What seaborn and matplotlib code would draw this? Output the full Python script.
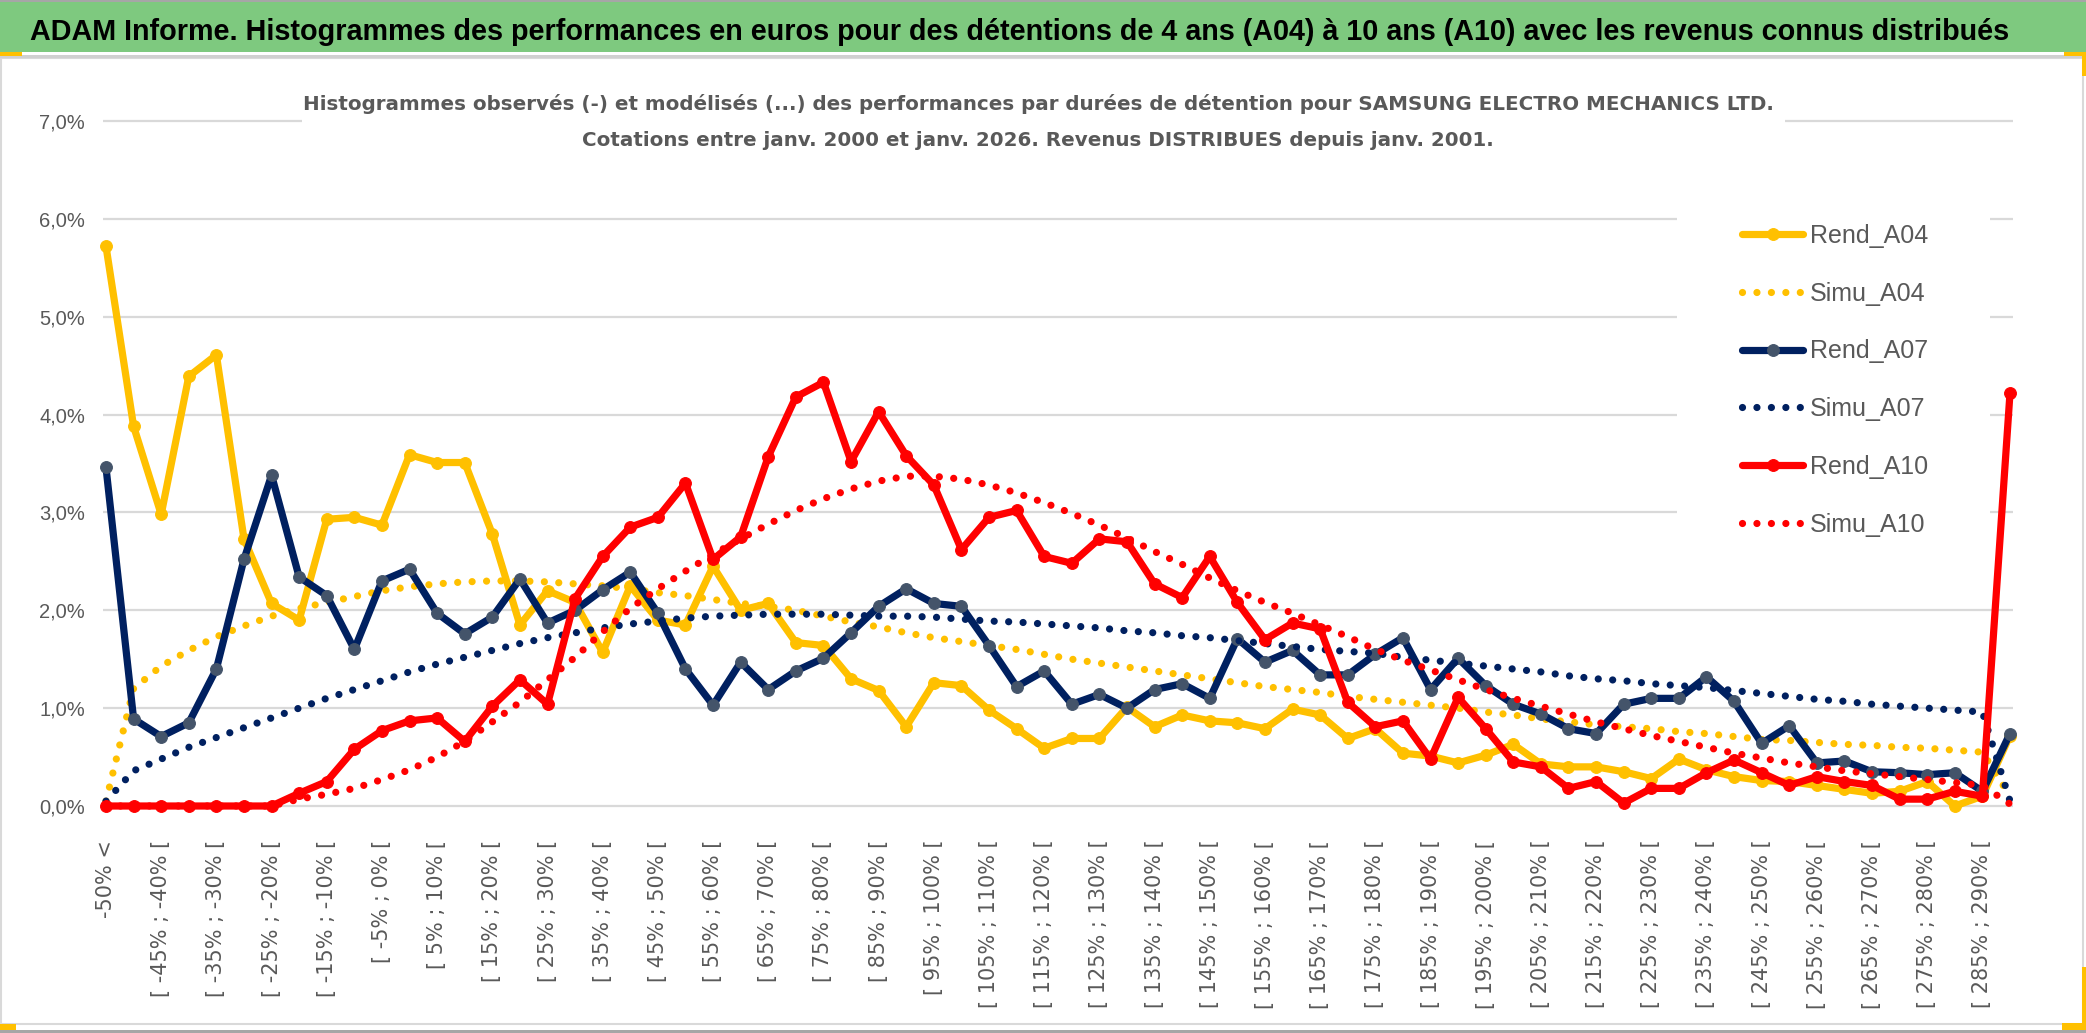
''' Histogrammes ADAM - SAMSUNG ELECTRO MECHANICS '''

''' Imports '''
import seaborn as sns
import matplotlib
matplotlib.use("Agg")
from matplotlib import pyplot as plt
from matplotlib.patches import Rectangle
from matplotlib.transforms import IdentityTransform
from matplotlib.ticker import FuncFormatter

''' Données (en %) '''
bornes = list(range(-50, 295, 5))
categories = ["-50% <"] + [f"[ {b}% ; {b + 5}% [" for b in bornes]

rend_a04 = [5.72, 3.88, 2.98, 4.39, 4.61, 2.73, 2.07, 1.9, 2.93, 2.95,
            2.87, 3.59, 3.51, 3.51, 2.78, 1.85, 2.2, 2.08, 1.57, 2.25,
            1.9, 1.85, 2.45, 2.0, 2.07, 1.67, 1.64, 1.3, 1.18, 0.81,
            1.26, 1.23, 0.98, 0.79, 0.59, 0.69, 0.69, 1.01, 0.81, 0.93,
            0.87, 0.85, 0.79, 0.99, 0.93, 0.69, 0.79, 0.54, 0.51, 0.44,
            0.52, 0.63, 0.43, 0.4, 0.4, 0.35, 0.28, 0.48, 0.37, 0.3,
            0.26, 0.25, 0.21, 0.17, 0.13, 0.15, 0.25, 0.0, 0.1, 0.72]
simu_a04 = [0.05, 1.2, 1.43, 1.59, 1.73, 1.84, 1.94, 2.02, 2.08, 2.14,
            2.2, 2.24, 2.27, 2.29, 2.3, 2.3, 2.29, 2.27, 2.25, 2.22,
            2.18, 2.15, 2.11, 2.07, 2.04, 2.0, 1.94, 1.88, 1.83, 1.77,
            1.72, 1.68, 1.64, 1.6, 1.55, 1.5, 1.46, 1.42, 1.38, 1.34,
            1.3, 1.26, 1.22, 1.19, 1.16, 1.12, 1.09, 1.06, 1.03, 1.0,
            0.96, 0.93, 0.89, 0.86, 0.83, 0.81, 0.79, 0.76, 0.74, 0.71,
            0.68, 0.67, 0.65, 0.63, 0.62, 0.6, 0.59, 0.57, 0.55, 0.1]
rend_a07 = [3.46, 0.89, 0.71, 0.85, 1.4, 2.52, 3.38, 2.34, 2.15, 1.6,
            2.3, 2.42, 1.97, 1.76, 1.93, 2.32, 1.87, 2.0, 2.21, 2.39,
            1.97, 1.4, 1.03, 1.47, 1.19, 1.38, 1.51, 1.77, 2.04, 2.22,
            2.07, 2.04, 1.64, 1.22, 1.38, 1.04, 1.14, 1.0, 1.19, 1.25,
            1.1, 1.71, 1.47, 1.59, 1.34, 1.34, 1.55, 1.72, 1.19, 1.51,
            1.23, 1.04, 0.94, 0.79, 0.74, 1.04, 1.1, 1.1, 1.32, 1.07,
            0.64, 0.82, 0.44, 0.46, 0.35, 0.34, 0.32, 0.34, 0.15, 0.74]
simu_a07 = [0.05, 0.36, 0.48, 0.6, 0.7, 0.8, 0.9, 1.0, 1.1, 1.19,
            1.28, 1.37, 1.45, 1.52, 1.59, 1.66, 1.72, 1.77, 1.82, 1.86,
            1.89, 1.92, 1.94, 1.95, 1.96, 1.96, 1.96, 1.95, 1.94, 1.94,
            1.93, 1.91, 1.89, 1.88, 1.86, 1.84, 1.82, 1.79, 1.77, 1.74,
            1.72, 1.69, 1.66, 1.63, 1.6, 1.58, 1.56, 1.52, 1.49, 1.46,
            1.43, 1.4, 1.37, 1.33, 1.3, 1.28, 1.25, 1.23, 1.21, 1.18,
            1.15, 1.12, 1.09, 1.07, 1.04, 1.02, 1.0, 0.98, 0.96, 0.05]
rend_a10 = [0.0, 0.0, 0.0, 0.0, 0.0, 0.0, 0.0, 0.13, 0.25, 0.58,
            0.77, 0.87, 0.9, 0.66, 1.02, 1.29, 1.04, 2.12, 2.55, 2.85,
            2.95, 3.3, 2.52, 2.75, 3.57, 4.18, 4.33, 3.52, 4.03, 3.58,
            3.28, 2.62, 2.95, 3.02, 2.55, 2.48, 2.73, 2.7, 2.27, 2.13,
            2.55, 2.08, 1.7, 1.87, 1.81, 1.06, 0.81, 0.87, 0.48, 1.11,
            0.79, 0.45, 0.4, 0.18, 0.25, 0.03, 0.18, 0.18, 0.34, 0.47,
            0.34, 0.21, 0.3, 0.25, 0.21, 0.07, 0.07, 0.15, 0.1, 4.22]
simu_a10 = [0.0, 0.0, 0.0, 0.0, 0.0, 0.0, 0.0, 0.07, 0.12, 0.18,
            0.27, 0.37, 0.5, 0.66, 0.86, 1.06, 1.29, 1.52, 1.78, 2.02,
            2.22, 2.4, 2.57, 2.73, 2.88, 3.02, 3.14, 3.24, 3.32, 3.37,
            3.37, 3.34, 3.28, 3.2, 3.1, 2.99, 2.87, 2.74, 2.6, 2.47,
            2.33, 2.2, 2.08, 1.97, 1.85, 1.73, 1.6, 1.49, 1.39, 1.29,
            1.19, 1.1, 1.02, 0.94, 0.86, 0.79, 0.72, 0.66, 0.6, 0.54,
            0.49, 0.44, 0.4, 0.36, 0.33, 0.3, 0.27, 0.24, 0.21, 0.02]

titre = ("ADAM Informe. Histogrammes des performances en euros pour des détentions "
         "de 4 ans (A04) à 10 ans (A10) avec les revenus connus distribués")
sous_titre = ["Histogrammes observés (-) et modélisés (...) des performances par durées "
              "de détention pour SAMSUNG ELECTRO MECHANICS LTD.",
              "Cotations entre janv. 2000 et janv. 2026. Revenus DISTRIBUES depuis janv. 2001."]

''' Style '''
sns.set_theme(style="white")
LIB = ["Liberation Sans", "DejaVu Sans"]
plt.rcParams["font.family"] = ["DejaVu Sans"]
GRIS = "#595959"
GRILLE = "#d9d9d9"
W, H = 2086, 1033


def boite(x0, y0, x1, y1, **kw):
    # rectangle en pixels (origine en haut a gauche)
    return Rectangle((x0, H - y1), x1 - x0, y1 - y0, transform=IdentityTransform(), **kw)


fig = plt.figure(figsize=(W / 100, H / 100), dpi=100)

''' Axes : 0% -> y=806 px, 7% -> y=121 px ; cat 0 -> x=106 px, cat 69 -> x=2010 px '''
px_pct = (806 - 121) / 7.0
px_cat = (2010 - 106) / 69.0
y_lo, y_hi = -0.06, 7.06
x_lo, x_hi = -0.1, 69.1
left = 106 + x_lo * px_cat
right = 106 + x_hi * px_cat
bottom = 806 - y_lo * px_pct
top = 806 - y_hi * px_pct
ax = fig.add_axes([left / W, 1 - bottom / H, (right - left) / W, (bottom - top) / H])

positions = list(range(len(categories)))
series = [
    ("Rend_A04", rend_a04, "#FFC000", "#FFC000", "-"),
    ("Simu_A04", simu_a04, "#FFC000", None, ":"),
    ("Rend_A07", rend_a07, "#002060", "#44546A", "-"),
    ("Simu_A07", simu_a07, "#002060", None, ":"),
    ("Rend_A10", rend_a10, "#FF0000", "#FF0000", "-"),
    ("Simu_A10", simu_a10, "#FF0000", None, ":"),
]

for i, (nom, valeurs, couleur, marq, style) in enumerate(series):
    if style == "-":
        sns.lineplot(x=positions, y=valeurs, ax=ax, color=couleur, lw=5.2, marker="o",
                     ms=8.5, mfc=marq, mec=marq, label=nom, clip_on=False,
                     errorbar=None, zorder=3 + i)
    else:
        sns.lineplot(x=positions, y=valeurs, ax=ax, color=couleur, lw=5.2,
                     linestyle=(0, (0.001, 2.0)), dash_capstyle="round", label=nom,
                     clip_on=False, errorbar=None, zorder=3 + i)

ax.set_xlim(x_lo, x_hi)
ax.set_ylim(y_lo, y_hi)
ax.set_axisbelow(True)
for s in ax.spines.values():
    s.set_visible(False)

ax.set_yticks(range(0, 8))
ax.yaxis.set_major_formatter(FuncFormatter(lambda v, p: f"{v:.1f}%".replace(".", ",")))
ax.grid(axis="y", color=GRILLE, lw=1.6)
ax.tick_params(axis="y", length=0, pad=13, labelcolor=GRIS, labelsize=14.5)
for t in ax.get_yticklabels():
    t.set_family(LIB)

ax.set_xticks(positions[::2])
ax.set_xticklabels(categories[::2], rotation=90, va="top", ha="center")
ax.set_xticks(positions[::4], minor=True)
ax.grid(axis="x", which="minor", color=GRILLE, lw=1.6)
ax.tick_params(axis="x", which="major", length=0, pad=20, labelcolor=GRIS, labelsize=15)
ax.tick_params(axis="x", which="minor", length=8, width=1.6, color=GRILLE, direction="out")
ax.set_xlabel("")
ax.set_ylabel("")

# caches blancs sous le titre du graphique et la legende
ax.add_patch(boite(302, 60, 1785, 160, facecolor="white", edgecolor="none", zorder=1))
ax.add_patch(boite(1677, 207, 1990, 552, facecolor="white", edgecolor="none", zorder=1))

leg = ax.legend(loc="upper left", bbox_to_anchor=(1742 / W, 1 - 224 / H),
                bbox_transform=fig.transFigure, frameon=False, borderpad=0,
                borderaxespad=0, handlelength=2.45, handletextpad=0.25,
                labelspacing=1.35, prop={"family": LIB, "size": 18})
for t in leg.get_texts():
    t.set_color(GRIS)

''' Cadre, bandeau et titres '''
fig.add_artist(boite(1, 58, 2083, 1024, facecolor="none", edgecolor=GRILLE, lw=1.5))
fig.add_artist(boite(0, 1030, W, H, facecolor="#a6a6a6", edgecolor="none"))
fig.add_artist(boite(0, 0, W, 2, facecolor="#a6a6a6", edgecolor="none"))
fig.add_artist(boite(0, 2, W, 52, facecolor="#7ec97f", edgecolor="none"))
fig.add_artist(boite(0, 55, W, 58, facecolor="#d0d0d0", edgecolor="none"))
for x0, y0, x1, y1 in [(0, 52, 22, 56), (2064, 52, W, 56), (2082, 52, W, 76),
                       (2082, 967, W, 1030), (2062, 1023, W, 1030), (0, 1024, 16, 1030)]:
    fig.add_artist(boite(x0, y0, x1, y1, facecolor="#FFC000", edgecolor="none"))

fig.text(30 / W, 1 - 40 / H, titre, family=LIB, fontsize=20.7, fontweight="bold",
         color="black", va="baseline", ha="left")
fig.text(1038 / W, 1 - 104 / H, sous_titre[0], fontsize=14.3, fontweight="bold",
         color=GRIS, ha="center", va="center")
fig.text(1038 / W, 1 - 140 / H, sous_titre[1], fontsize=14.3, fontweight="bold",
         color=GRIS, ha="center", va="center")

fig.savefig("out.png", dpi=100, facecolor="white")
